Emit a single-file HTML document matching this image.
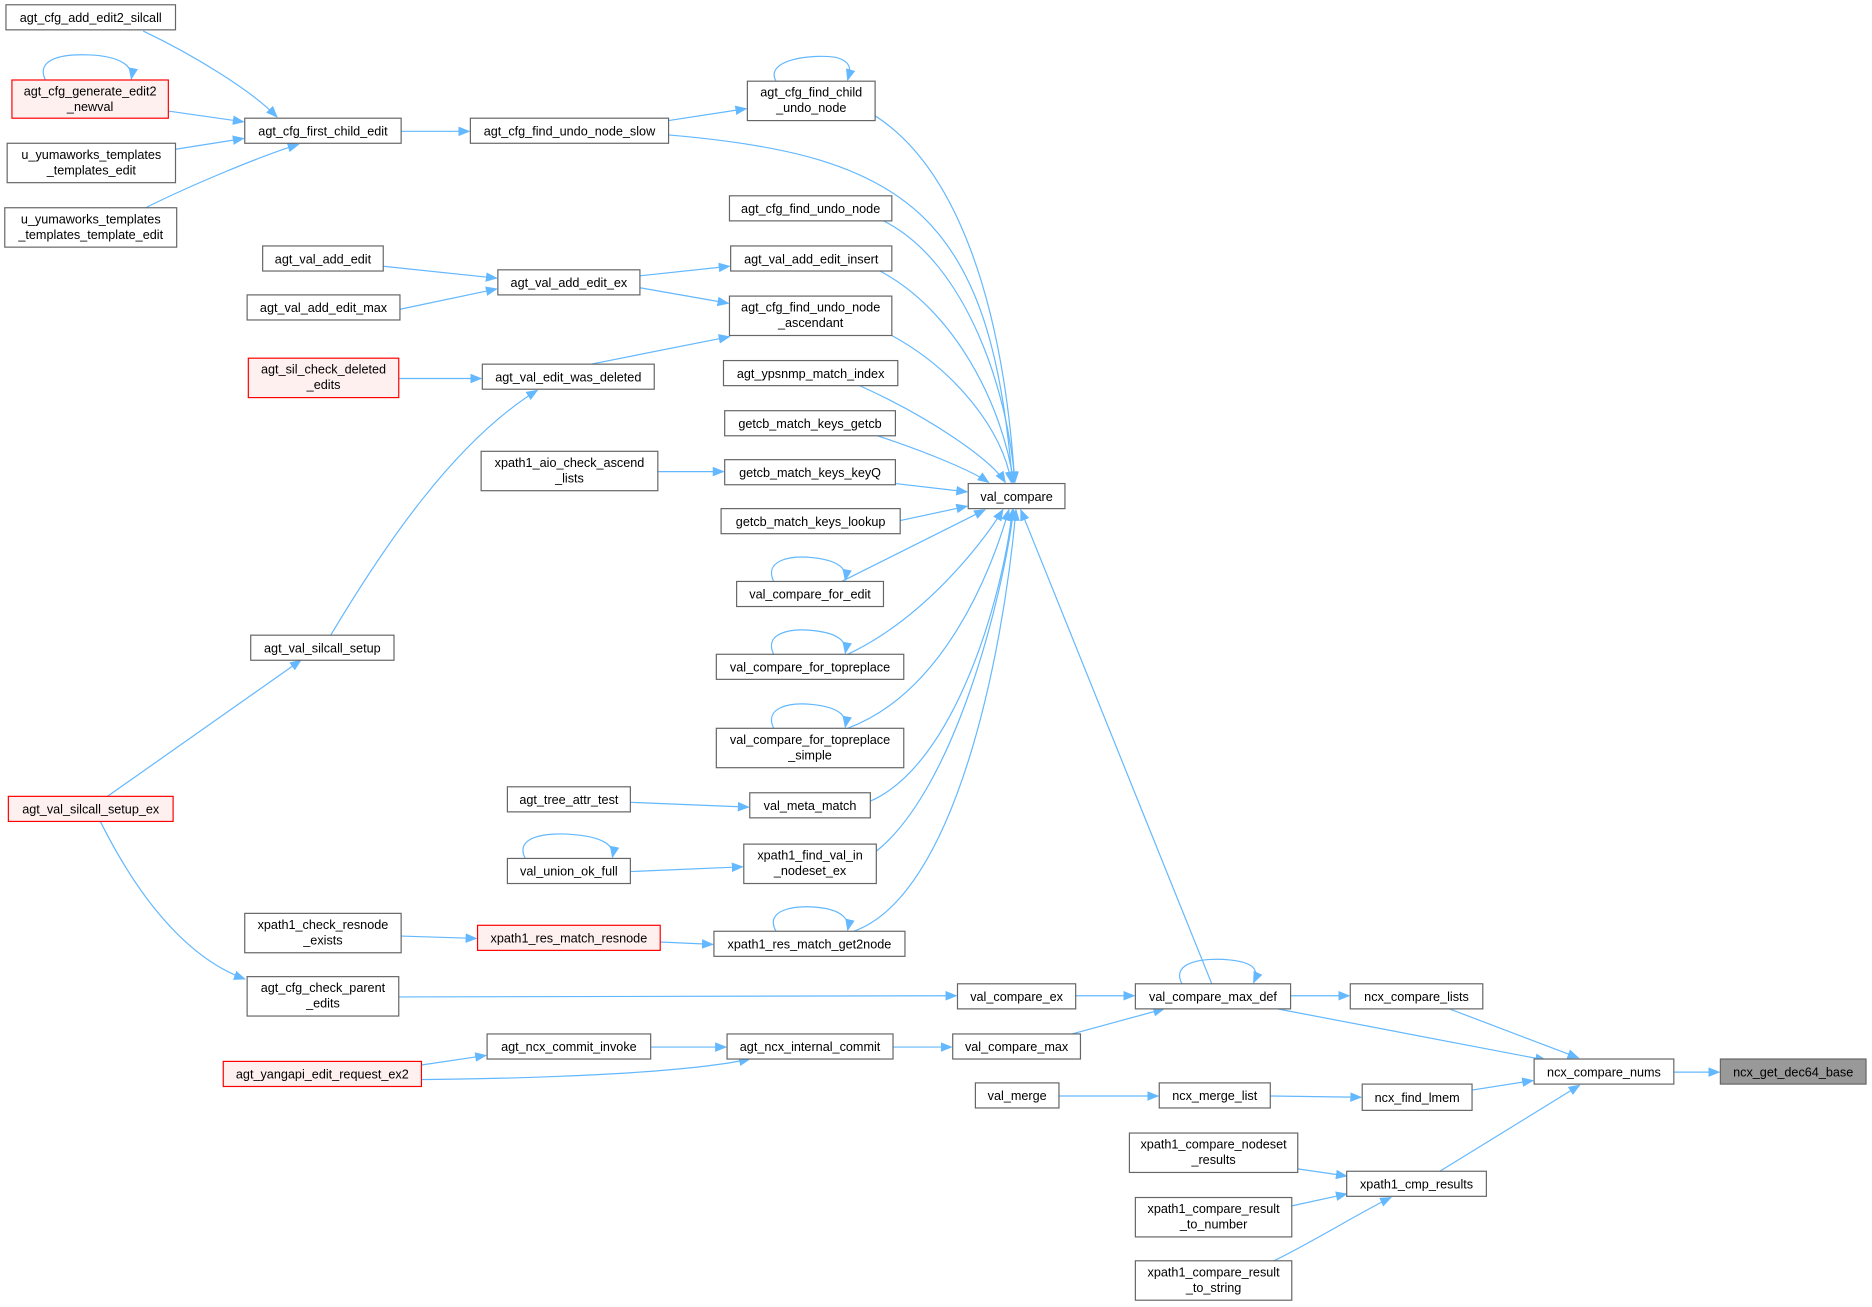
<!DOCTYPE html>
<html><head><meta charset="utf-8"><style>
html,body{margin:0;padding:0;background:#fff;}
svg{display:block;}
text{font-family:"Liberation Sans",Arial,sans-serif;font-size:10.6px;fill:#000;text-anchor:middle;}
.e{fill:none;stroke:#63b8ff;stroke-width:1;}
.n{fill:#fff;stroke:#666;stroke-width:1;}
.r{fill:#fff0f0;stroke:#ff0000;stroke-width:1;}
.g{fill:#999;stroke:#666;stroke-width:1;}
</style></head><body>
<svg width="1872" height="1307" viewBox="0 0 1568 1094.7" preserveAspectRatio="none" xmlns="http://www.w3.org/2000/svg">
<defs><marker id="a" markerWidth="10" markerHeight="8" refX="9" refY="4" orient="auto" markerUnits="userSpaceOnUse"><path d="M0,0 L10,4 L0,8 z" fill="#63b8ff"/></marker></defs>
<g class="e" marker-end="url(#a)">
<path d="M120,26 C160,45 210,75 232,98"/>
<path d="M141,93 L204,102"/>
<path d="M147,125 L204,116"/>
<path d="M122,174 C160,155 220,130 250,121"/>
<path d="M38,67 C30,50 50,45 75,46 C100,47 112,55 110,66"/>
<path d="M336,110 L393,110"/>
<path d="M560,101 L625,91"/>
<path d="M650,68 C640,50 680,45 700,48 C715,52 712,60 710,67"/>
<path d="M560,113 C760,130 830,180 848,404"/>
<path d="M733,97 C800,140 840,250 850,404"/>
<path d="M740,185 C810,220 845,330 850,404"/>
<path d="M321,223 L416,233"/>
<path d="M335,259 L416,242"/>
<path d="M536,231 L611,223"/>
<path d="M536,241 L610,254"/>
<path d="M737,227 C800,260 840,340 849,404"/>
<path d="M747,281 C800,310 840,360 847,404"/>
<path d="M334,317 L403,317"/>
<path d="M495,305 L611,282"/>
<path d="M720,323 C780,350 830,385 842,404"/>
<path d="M735,365 C780,380 815,395 828,404"/>
<path d="M551,395 L606,395"/>
<path d="M750,405 L810,412"/>
<path d="M754,436 L810,424"/>
<path d="M648,487 C640,470 660,465 680,467 C700,469 710,475 708,486"/>
<path d="M705,487 L825,427"/>
<path d="M648,548 C640,531 660,526 680,528 C700,530 710,536 708,547"/>
<path d="M710,548 C770,520 820,460 840,427"/>
<path d="M648,610 C640,593 660,588 680,590 C700,592 710,598 708,609"/>
<path d="M710,610 C790,580 830,480 845,427"/>
<path d="M528,672 L627,676"/>
<path d="M729,671 C800,640 840,500 848,427"/>
<path d="M440,719 C430,700 460,697 480,699 C505,701 515,708 513,718"/>
<path d="M528,730 L622,726"/>
<path d="M734,713 C800,660 840,500 849,427"/>
<path d="M336,784 L399,786"/>
<path d="M553,789 L597,791"/>
<path d="M650,780 C640,762 665,758 685,760 C705,762 712,770 710,779"/>
<path d="M715,780 C800,750 840,550 851,427"/>
<path d="M277,532 C320,460 380,370 450,327"/>
<path d="M90,667 L252,553"/>
<path d="M84,688 C110,740 150,800 205,820"/>
<path d="M334,835 L801,834"/>
<path d="M901,834 L950,834"/>
<path d="M990,824 C980,805 1010,802 1030,804 C1050,806 1055,812 1050,823"/>
<path d="M1015,824 L855,427"/>
<path d="M1081,834 L1130,834"/>
<path d="M1070,845 L1295,888"/>
<path d="M1214,845 L1322,886"/>
<path d="M545,877 L608,877"/>
<path d="M748,877 L797,877"/>
<path d="M898,866 L975,845"/>
<path d="M353,892 L407,884"/>
<path d="M300,904 C380,905 560,902 628,887"/>
<path d="M887,918 L970,918"/>
<path d="M1064,918 L1140,919"/>
<path d="M1233,913 L1284,905"/>
<path d="M1402,898 L1440,898"/>
<path d="M1087,979 L1128,985"/>
<path d="M1082,1010 L1128,1000"/>
<path d="M1067,1056 C1100,1040 1140,1015 1165,1003"/>
<path d="M1206,981 L1323,909"/>
</g>
<g>
<rect class="n" x="5" y="4" width="142" height="21"/><text x="76" y="18.5">agt_cfg_add_edit2_silcall</text>
<rect class="r" x="10" y="67" width="131" height="32"/><text x="75.5" y="80">agt_cfg_generate_edit2</text><text x="75.5" y="93">_newval</text>
<rect class="n" x="6" y="120" width="141" height="33"/><text x="76.5" y="133">u_yumaworks_templates</text><text x="76.5" y="146">_templates_edit</text>
<rect class="n" x="4" y="174" width="144" height="33"/><text x="76" y="187">u_yumaworks_templates</text><text x="76" y="200">_templates_template_edit</text>
<rect class="n" x="205" y="99" width="131" height="21"/><text x="270.5" y="113.5">agt_cfg_first_child_edit</text>
<rect class="n" x="394" y="99" width="166" height="21"/><text x="477" y="113.5">agt_cfg_find_undo_node_slow</text>
<rect class="n" x="626" y="68" width="107" height="33"/><text x="679.5" y="81">agt_cfg_find_child</text><text x="679.5" y="94">_undo_node</text>
<rect class="n" x="611" y="164" width="136" height="21"/><text x="679" y="178.5">agt_cfg_find_undo_node</text>
<rect class="n" x="220" y="206" width="101" height="21"/><text x="270.5" y="220.5">agt_val_add_edit</text>
<rect class="n" x="207" y="247" width="128" height="21"/><text x="271" y="261.5">agt_val_add_edit_max</text>
<rect class="n" x="417" y="226" width="119" height="21"/><text x="476.5" y="240.5">agt_val_add_edit_ex</text>
<rect class="n" x="612" y="206" width="135" height="21"/><text x="679.5" y="220.5">agt_val_add_edit_insert</text>
<rect class="n" x="611" y="248" width="136" height="33"/><text x="679" y="261">agt_cfg_find_undo_node</text><text x="679" y="274">_ascendant</text>
<rect class="r" x="208" y="300" width="126" height="33"/><text x="271" y="313">agt_sil_check_deleted</text><text x="271" y="326">_edits</text>
<rect class="n" x="404" y="305" width="144" height="21"/><text x="476" y="319.5">agt_val_edit_was_deleted</text>
<rect class="n" x="606" y="302" width="146" height="21"/><text x="679" y="316.5">agt_ypsnmp_match_index</text>
<rect class="n" x="607" y="344" width="143" height="21"/><text x="678.5" y="358.5">getcb_match_keys_getcb</text>
<rect class="n" x="403" y="378" width="148" height="33"/><text x="477" y="391">xpath1_aio_check_ascend</text><text x="477" y="404">_lists</text>
<rect class="n" x="607" y="385" width="143" height="21"/><text x="678.5" y="399.5">getcb_match_keys_keyQ</text>
<rect class="n" x="604" y="426" width="150" height="21"/><text x="679" y="440.5">getcb_match_keys_lookup</text>
<rect class="n" x="811" y="405" width="81" height="21"/><text x="851.5" y="419.5">val_compare</text>
<rect class="n" x="617" y="487" width="123" height="21"/><text x="678.5" y="501.5">val_compare_for_edit</text>
<rect class="n" x="600" y="548" width="157" height="21"/><text x="678.5" y="562.5">val_compare_for_topreplace</text>
<rect class="n" x="600" y="610" width="157" height="33"/><text x="678.5" y="623">val_compare_for_topreplace</text><text x="678.5" y="636">_simple</text>
<rect class="n" x="425" y="659" width="103" height="21"/><text x="476.5" y="673.5">agt_tree_attr_test</text>
<rect class="n" x="628" y="664" width="101" height="21"/><text x="678.5" y="678.5">val_meta_match</text>
<rect class="n" x="425" y="719" width="103" height="21"/><text x="476.5" y="733.5">val_union_ok_full</text>
<rect class="n" x="623" y="707" width="111" height="33"/><text x="678.5" y="720">xpath1_find_val_in</text><text x="678.5" y="733">_nodeset_ex</text>
<rect class="n" x="205" y="765" width="131" height="33"/><text x="270.5" y="778">xpath1_check_resnode</text><text x="270.5" y="791">_exists</text>
<rect class="r" x="400" y="775" width="153" height="21"/><text x="476.5" y="789.5">xpath1_res_match_resnode</text>
<rect class="n" x="598" y="780" width="160" height="21"/><text x="678" y="794.5">xpath1_res_match_get2node</text>
<rect class="n" x="210" y="532" width="120" height="21"/><text x="270" y="546.5">agt_val_silcall_setup</text>
<rect class="r" x="7" y="667" width="138" height="21"/><text x="76" y="681.5">agt_val_silcall_setup_ex</text>
<rect class="n" x="207" y="818" width="127" height="33"/><text x="270.5" y="831">agt_cfg_check_parent</text><text x="270.5" y="844">_edits</text>
<rect class="n" x="802" y="824" width="99" height="21"/><text x="851.5" y="838.5">val_compare_ex</text>
<rect class="n" x="951" y="824" width="130" height="21"/><text x="1016" y="838.5">val_compare_max_def</text>
<rect class="n" x="1131" y="824" width="111" height="21"/><text x="1186.5" y="838.5">ncx_compare_lists</text>
<rect class="n" x="408" y="866" width="137" height="21"/><text x="476.5" y="880.5">agt_ncx_commit_invoke</text>
<rect class="n" x="609" y="866" width="139" height="21"/><text x="678.5" y="880.5">agt_ncx_internal_commit</text>
<rect class="n" x="798" y="866" width="107" height="21"/><text x="851.5" y="880.5">val_compare_max</text>
<rect class="r" x="187" y="889" width="166" height="21"/><text x="270" y="903.5">agt_yangapi_edit_request_ex2</text>
<rect class="n" x="817" y="907" width="70" height="21"/><text x="852" y="921.5">val_merge</text>
<rect class="n" x="971" y="907" width="93" height="21"/><text x="1017.5" y="921.5">ncx_merge_list</text>
<rect class="n" x="1141" y="908" width="92" height="22"/><text x="1187" y="923">ncx_find_lmem</text>
<rect class="n" x="1285" y="887" width="117" height="21"/><text x="1343.5" y="901.5">ncx_compare_nums</text>
<rect class="g" x="1441" y="887" width="122" height="21"/><text x="1502" y="901.5">ncx_get_dec64_base</text>
<rect class="n" x="946" y="949" width="141" height="33"/><text x="1016.5" y="962">xpath1_compare_nodeset</text><text x="1016.5" y="975">_results</text>
<rect class="n" x="1128" y="981" width="117" height="21"/><text x="1186.5" y="995.5">xpath1_cmp_results</text>
<rect class="n" x="951" y="1003" width="131" height="33"/><text x="1016.5" y="1016">xpath1_compare_result</text><text x="1016.5" y="1029">_to_number</text>
<rect class="n" x="951" y="1056" width="131" height="33"/><text x="1016.5" y="1069">xpath1_compare_result</text><text x="1016.5" y="1082">_to_string</text>
</g>
</svg>
</body></html>
